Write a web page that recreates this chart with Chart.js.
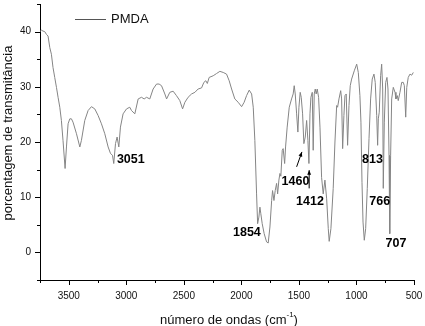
<!DOCTYPE html>
<html lang="pt">
<head>
    <meta charset="UTF-8">
    <title>PMDA - espectro IV</title>
    <style>
        body {
            margin: 0;
            padding: 0;
            background: #ffffff;
        }
        .chart-box {
            width: 425px;
            height: 326px;
            position: relative;
        }
    </style>
</head>
<body>

<div class="chart-box">
    <canvas id="irChart"></canvas>
</div>

<script src="https://cdn.jsdelivr.net/npm/chart.js"></script>
<script>
    // wavenumbers (cm-1), left to right
    var wavenumbers = [3752,3737,3724,3709,3694,3680,3665,3651,3637,3622,3607,3593,3578,3564,3550,3532,3520,3506,3491,3477,
        3463,3433,3404,3390,3361,3332,3303,3274,3245,3216,3187,3158,3137,3120,3109,3094,3080,3065,3051,3028,
        2998,2970,2955,2926,2897,2868,2845,2824,2796,2767,2737,2715,2694,2665,2650,2622,2593,2564,2535,2511,
        2491,2463,2433,2404,2376,2346,2326,2309,2296,2280,2245,2216,2187,2158,2129,2106,2085,2057,2028,1998,
        1976,1955,1932,1911,1897,1883,1868,1859,1848,1839,1831,1819,1802,1781,1767,1752,1737,1729,1717,1706,
        1694,1685,1674,1665,1657,1645,1637,1624,1616,1602,1584,1564,1550,1541,1532,1520,1509,1500,1489,1480,
        1468,1457,1445,1433,1422,1413,1404,1396,1384,1376,1367,1358,1350,1341,1329,1317,1303,1289,1274,1259,
        1245,1237,1222,1202,1187,1172,1164,1152,1137,1129,1120,1109,1100,1089,1077,1065,1054,1042,1019,998,
        984,970,961,952,943,932,920,906,891,877,863,848,837,824,816,810,802,790,781,772,
        767,758,746,735,726,717,711,703,694,680,665,657,645,637,622,607,593,584,572,563,
        550,535,520,506];

    // % transmittance at each wavenumber
    var transmittance = [40.0,40.25,40.1,40.0,39.5,39.2,37.1,35.9,33.5,31.7,29.9,28.1,26.3,23.9,20.3,15.2,19.1,23.3,24.2,24.2,
        23.6,21.5,19.1,20.3,23.9,25.7,26.4,26.0,24.8,23.3,21.5,19.1,17.9,17.6,16.1,19.7,20.9,19.1,22.7,25.1,
        26.0,26.3,25.7,25.1,27.8,28.1,27.8,28.1,27.8,29.6,30.5,30.5,30.2,28.7,27.8,29.0,29.2,28.4,27.5,26.0,
        27.2,28.1,28.7,29.0,29.6,29.8,30.8,31.1,30.6,31.7,32.0,32.4,32.8,32.6,32.3,31.1,29.6,27.8,27.2,26.4,
        27.2,28.4,29.4,28.7,26.3,20.3,10.6,5.2,6.4,8.2,7.0,5.2,3.4,1.9,1.7,4.6,9.4,11.2,9.4,11.2,
        12.5,10.6,13.1,14.3,13.8,18.5,18.8,16.1,19.1,22.7,26.3,27.8,28.7,30.2,28.7,25.1,21.8,26.3,29.0,28.1,
        25.1,19.7,20.9,23.9,20.3,16.1,25.1,28.1,29.0,18.5,28.7,29.6,28.7,29.6,28.1,22.7,13.6,10.6,13.1,9.7,
        4.3,2.0,4.3,11.6,20.0,26.6,26.3,27.8,29.3,27.8,18.8,24.8,28.4,28.7,19.4,26.6,30.2,31.4,32.9,34.1,
        32.6,28.4,23.6,12.7,5.5,2.2,4.3,11.6,20.6,27.8,31.4,32.3,30.8,24.8,19.4,24.2,25.4,32.0,34.1,29.6,
        11.6,23.6,30.8,31.7,29.6,17.6,3.4,17.6,27.8,29.9,29.0,27.8,28.4,27.5,29.0,30.8,30.8,30.2,24.5,29.9,
        31.7,32.3,32.1,32.6];

    // axis ranges / tick steps
    var xRange = [500, 3750];
    var yRange = [-5, 45];
    var xLabelStep = 500;
    var yLabelStep = 10;

    // peak labels (text, wavenumber, transmittance of label centre)
    var peakText = ['3051', '1854', '1460', '1412', '813', '766', '707'];
    var peakWn = [2961, 1952, 1530, 1404, 861, 798, 657];
    var peakT = [16.8, 3.6, 12.9, 9.2, 16.8, 9.2, 1.6];

    // small arrows for 1460 and 1412 (from -> to, in data units)
    var arrowFrom = [[1520, 15.5], [1411, 11.6]];
    var arrowTo = [[1474, 18.2], [1411, 14.9]];

    var FONT = '"Liberation Sans", Arial, sans-serif';

    var points = wavenumbers.map(function (w, i) {
        return { x: w, y: transmittance[i] };
    });

    // draws tick marks, titles, legend and peak labels
    var extras = {
        id: 'extras',
        afterDraw: function (chart) {
            var ctx = chart.ctx;
            var xs = chart.scales.x;
            var ys = chart.scales.y;
            var area = chart.chartArea;
            ctx.save();
            ctx.strokeStyle = '#000';
            ctx.lineWidth = 1;

            // tick marks, major longer than minor
            xs.ticks.forEach(function (t) {
                var px = Math.round(xs.getPixelForValue(t.value)) + 0.5;
                var len = t.value % xLabelStep === 0 ? 5 : 3;
                ctx.beginPath();
                ctx.moveTo(px, area.bottom);
                ctx.lineTo(px, area.bottom + len);
                ctx.stroke();
            });
            ys.ticks.forEach(function (t) {
                var py = Math.round(ys.getPixelForValue(t.value)) + 0.5;
                var len = t.value % yLabelStep === 0 ? 5 : 3;
                ctx.beginPath();
                ctx.moveTo(area.left, py);
                ctx.lineTo(area.left - len, py);
                ctx.stroke();
            });

            // axis titles
            ctx.fillStyle = '#111';
            ctx.font = '13px ' + FONT;
            ctx.textBaseline = 'middle';
            var main = 'número de ondas (cm';
            var sup = '-1';
            var close = ')';
            var wMain = ctx.measureText(main).width;
            var wClose = ctx.measureText(close).width;
            ctx.font = '8px ' + FONT;
            var wSup = ctx.measureText(sup).width;
            var startX = 229 - (wMain + wSup + wClose) / 2;
            ctx.font = '13px ' + FONT;
            ctx.textAlign = 'left';
            ctx.fillText(main, startX, 320);
            ctx.font = '8px ' + FONT;
            ctx.fillText(sup, startX + wMain, 315);
            ctx.font = '13px ' + FONT;
            ctx.fillText(close, startX + wMain + wSup, 320);

            ctx.save();
            ctx.translate(8, 133);
            ctx.rotate(-Math.PI / 2);
            ctx.textAlign = 'center';
            ctx.fillText('porcentagem de transmitância', 0, 0);
            ctx.restore();

            // legend
            ctx.strokeStyle = '#555';
            ctx.beginPath();
            ctx.moveTo(75, 19.5);
            ctx.lineTo(106, 19.5);
            ctx.stroke();
            ctx.textAlign = 'left';
            ctx.fillText('PMDA', 111, 19);

            // peak labels
            ctx.font = 'bold 12.5px ' + FONT;
            ctx.textAlign = 'center';
            ctx.fillStyle = '#000';
            peakText.forEach(function (txt, i) {
                ctx.fillText(txt, xs.getPixelForValue(peakWn[i]), ys.getPixelForValue(peakT[i]));
            });

            // arrows
            ctx.strokeStyle = '#000';
            arrowFrom.forEach(function (a, i) {
                var x1 = xs.getPixelForValue(a[0]), y1 = ys.getPixelForValue(a[1]);
                var x2 = xs.getPixelForValue(arrowTo[i][0]), y2 = ys.getPixelForValue(arrowTo[i][1]);
                ctx.beginPath();
                ctx.moveTo(x1, y1);
                ctx.lineTo(x2, y2);
                ctx.stroke();
                var ang = Math.atan2(y2 - y1, x2 - x1);
                ctx.beginPath();
                ctx.moveTo(x2, y2);
                ctx.lineTo(x2 - 5 * Math.cos(ang - 0.4), y2 - 5 * Math.sin(ang - 0.4));
                ctx.lineTo(x2 - 5 * Math.cos(ang + 0.4), y2 - 5 * Math.sin(ang + 0.4));
                ctx.closePath();
                ctx.fill();
            });
            ctx.restore();
        }
    };

    var chart = new Chart(document.getElementById('irChart'), {
        type: 'line',
        data: {
            datasets: [{
                label: 'PMDA',
                data: points,
                borderColor: '#858585',
                borderWidth: 1,
                pointRadius: 0,
                tension: 0,
                fill: false
            }]
        },
        options: {
            responsive: true,
            maintainAspectRatio: false,
            animation: false,
            layout: { padding: { top: 4, right: 11, left: 0, bottom: 0 } },
            plugins: {
                legend: { display: false },
                tooltip: { enabled: false }
            },
            scales: {
                x: {
                    type: 'linear',
                    reverse: true,
                    min: xRange[0],
                    max: xRange[1],
                    grid: { display: false, drawTicks: false },
                    border: { display: true, color: '#000', width: 1 },
                    ticks: {
                        stepSize: 250,
                        autoSkip: false,
                        maxRotation: 0,
                        padding: 10,
                        color: '#111',
                        font: { family: FONT, size: 10 },
                        callback: function (v) { return v % xLabelStep === 0 ? String(v) : ''; }
                    },
                    afterFit: function (scale) {
                        scale.height = 46;
                        scale.paddingLeft = 0;
                        scale.paddingRight = 0;
                    }
                },
                y: {
                    min: yRange[0],
                    max: yRange[1],
                    grid: { display: false, drawTicks: false },
                    border: { display: true, color: '#000', width: 1 },
                    ticks: {
                        stepSize: 5,
                        autoSkip: false,
                        padding: 9,
                        color: '#111',
                        font: { family: FONT, size: 10 },
                        callback: function (v) { return v % yLabelStep === 0 ? String(v) : ''; }
                    },
                    afterFit: function (scale) {
                        scale.width = 40;
                        scale.paddingTop = 0;
                        scale.paddingBottom = 0;
                    }
                }
            }
        },
        plugins: [extras]
    });
</script>

</body>
</html>
